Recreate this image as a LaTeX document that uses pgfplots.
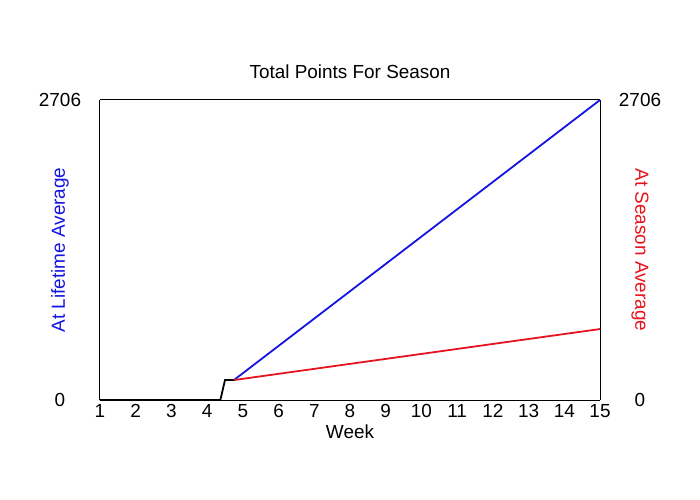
\documentclass[border=0pt]{standalone}
\usepackage{pgfplots}
\pgfplotsset{compat=1.18}
\usepackage{fontspec}
\setmainfont{Liberation Sans}

\definecolor{lifeblue}{RGB}{20,20,225}
\definecolor{seasonred}{RGB}{230,20,30}

\pgfplotsset{
  common/.style={
    scale only axis,
    width=500bp, height=300bp,
    xmin=1, xmax=15, ymin=0, ymax=2706,
    major tick length=0pt,
    ytick={0,2706},
    clip=false,
    /pgf/number format/assume math mode=true,
    /pgf/number format/1000 sep={},
    tick label style={font=\fontsize{19}{22}\selectfont},
    label style={font=\fontsize{19}{22}\selectfont},
    axis line style={line width=1bp},
  },
}

\begin{document}
\begin{tikzpicture}
% left axis: lifetime average
\begin{axis}[
    common,
    axis y line*=left,
    xtick={1,...,15},
    xticklabel style={yshift=-1bp},
    title={Total Points For Season},
    title style={font=\fontsize{19}{22}\selectfont, at={(axis description cs:0.5,1)}, anchor=south, yshift=12bp},
    xlabel={Week},
    xlabel style={yshift=0bp},
    ylabel={At Lifetime Average},
    ylabel style={text=lifeblue, at={(axis description cs:-0.08,0.5)}, anchor=center},
    yticklabel style={anchor=center, xshift=-40bp},
]
% black: before the season starts
\addplot[black, line width=1.8bp] coordinates {
    (1,0) (4.37,0) (4.5,180) (4.75,180)
};
% blue: lifetime average projection
\addplot[lifeblue, line width=1.8bp] coordinates {
    (4.75,180) (15,2706)
};
\end{axis}

% right axis: season average
\begin{axis}[
    common,
    axis y line*=right,
    axis x line=none,
    ylabel={At Season Average},
    ylabel style={text=seasonred, at={(axis description cs:1.08,0.5)}, anchor=center, rotate=180},
    yticklabel style={anchor=center, xshift=40bp},
]
\addplot[seasonred, line width=1.8bp] coordinates {
    (4.75,180) (15,640)
};
\end{axis}

\pgfresetboundingbox
\path (-100bp,-100bp) rectangle (600bp,400bp);
\end{tikzpicture}
\end{document}
